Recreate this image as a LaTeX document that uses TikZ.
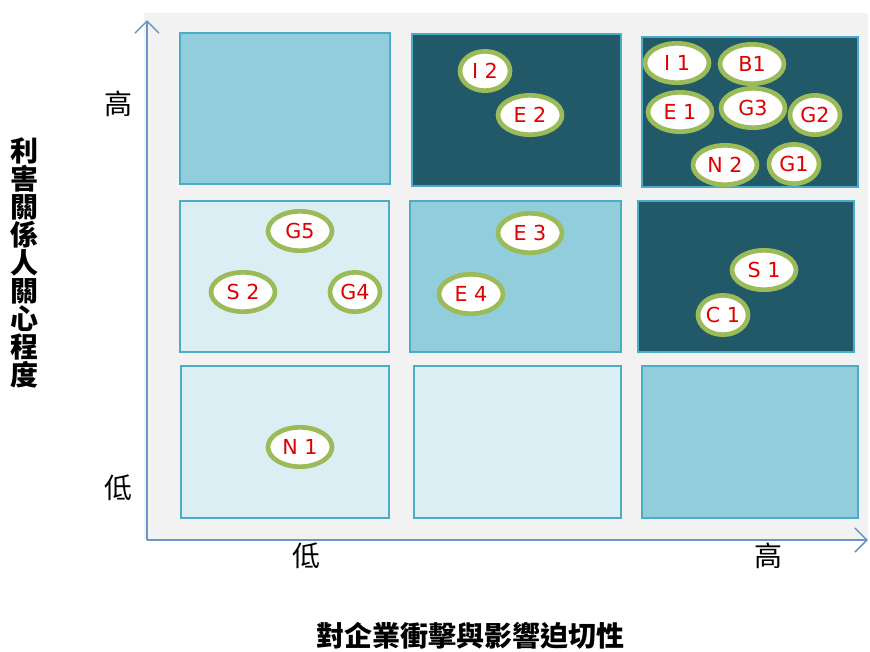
\documentclass[tikz,border=0pt]{standalone}
\usepackage{fontspec}
\setmainfont{Liberation Sans}
\newfontfamily\cjk{Noto Sans CJK TC}
\newfontfamily\bubfont{DejaVu Sans}
\usetikzlibrary{shapes.geometric,arrows.meta}
\definecolor{bggray}{HTML}{F2F2F2}
\definecolor{cmed}{HTML}{92CDDC}
\definecolor{clight}{HTML}{DAEEF3}
\definecolor{cdark}{HTML}{215968}
\definecolor{cborder}{HTML}{4BACC6}
\definecolor{cgreen}{HTML}{9BBB59}
\definecolor{cred}{HTML}{E00000}
\definecolor{caxis}{HTML}{6C93C8}
\tikzset{
  cell/.style={draw=cborder, line width=1.1pt},
  bub/.style={ellipse, draw=cgreen, line width=3.5pt, fill=white, inner sep=0pt,
    minimum width=48pt, minimum height=29.5pt, text=cred, font=\bubfont\fontsize{15.5}{15.5}\selectfont},
  bubs/.style={bub, minimum width=37.5pt},
  axisline/.style={draw=caxis, line width=1.4pt, -{Straight Barb[length=9pt,width=18pt,line width=1.1pt]}},
  tick/.style={font=\cjk\fontsize{21}{21}\selectfont, inner sep=0pt},
  ttl/.style={font=\cjk\bfseries\fontsize{21}{21}\selectfont, inner sep=0pt}
}
\begin{document}
\begin{tikzpicture}[x=0.75pt,y=-0.75pt]
\useasboundingbox (0,0) rectangle (870,651);
\fill[bggray] (144,13) rectangle (868,540);
% cells
\draw[cell, fill=cmed]   (180,33)  rectangle (390,184);
\draw[cell, fill=cdark]  (412,34)  rectangle (621,186);
\draw[cell, fill=cdark]  (642,37)  rectangle (858,187);
\draw[cell, fill=clight] (180,201) rectangle (389,352);
\draw[cell, fill=cmed]   (410,201) rectangle (621,352);
\draw[cell, fill=cdark]  (638,201) rectangle (854,352);
\draw[cell, fill=clight] (181,366) rectangle (389,518);
\draw[cell, fill=clight] (414,366) rectangle (621,518);
\draw[cell, fill=cmed]   (642,366) rectangle (858,518);
% axes
\coordinate (o) at (147,540);
\coordinate (ytop) at (147,20);
\coordinate (xend) at (868,540);
\draw[axisline] (o) -- (ytop);
\draw[axisline] (o) -- (xend);
% tick labels
\node[tick] (yhi) at (118,104) {高};
\node[tick] (ylo) at (118,488) {低};
\node[tick] (xlo) at (306,556) {低};
\node[tick] (xhi) at (768,556) {高};
% axis titles
\node[ttl, align=center] (ytitle) at (24,263) {\baselineskip=29\dimexpr0.75pt\relax 利\\害\\關\\係\\人\\關\\心\\程\\度};
\node[ttl] (xtitle) at (470,636) {對企業衝擊與影響迫切性};
% bubbles
\node[bubs] (I2) at (485,71) {I 2};
\node[bub]  (E2) at (530,115) {E 2};
\node[bub]  (I1) at (677,63) {I 1};
\node[bub]  (B1) at (752,64) {B1};
\node[bub]  (E1) at (680,112) {E 1};
\node[bub]  (G3) at (753,108) {G3};
\node[bubs] (G2) at (815,115) {G2};
\node[bub]  (N2) at (725,165) {N 2};
\node[bubs] (G1) at (794,164) {G1};
\node[bub]  (G5) at (300,231) {G5};
\node[bub]  (S2) at (243,292) {S 2};
\node[bubs] (G4) at (355,292) {G4};
\node[bub]  (E3) at (530,233) {E 3};
\node[bub]  (E4) at (471,294) {E 4};
\node[bub]  (S1) at (764,270) {S 1};
\node[bubs] (C1) at (723,315) {C 1};
\node[bub]  (N1) at (300,447) {N 1};
\end{tikzpicture}
\end{document}
